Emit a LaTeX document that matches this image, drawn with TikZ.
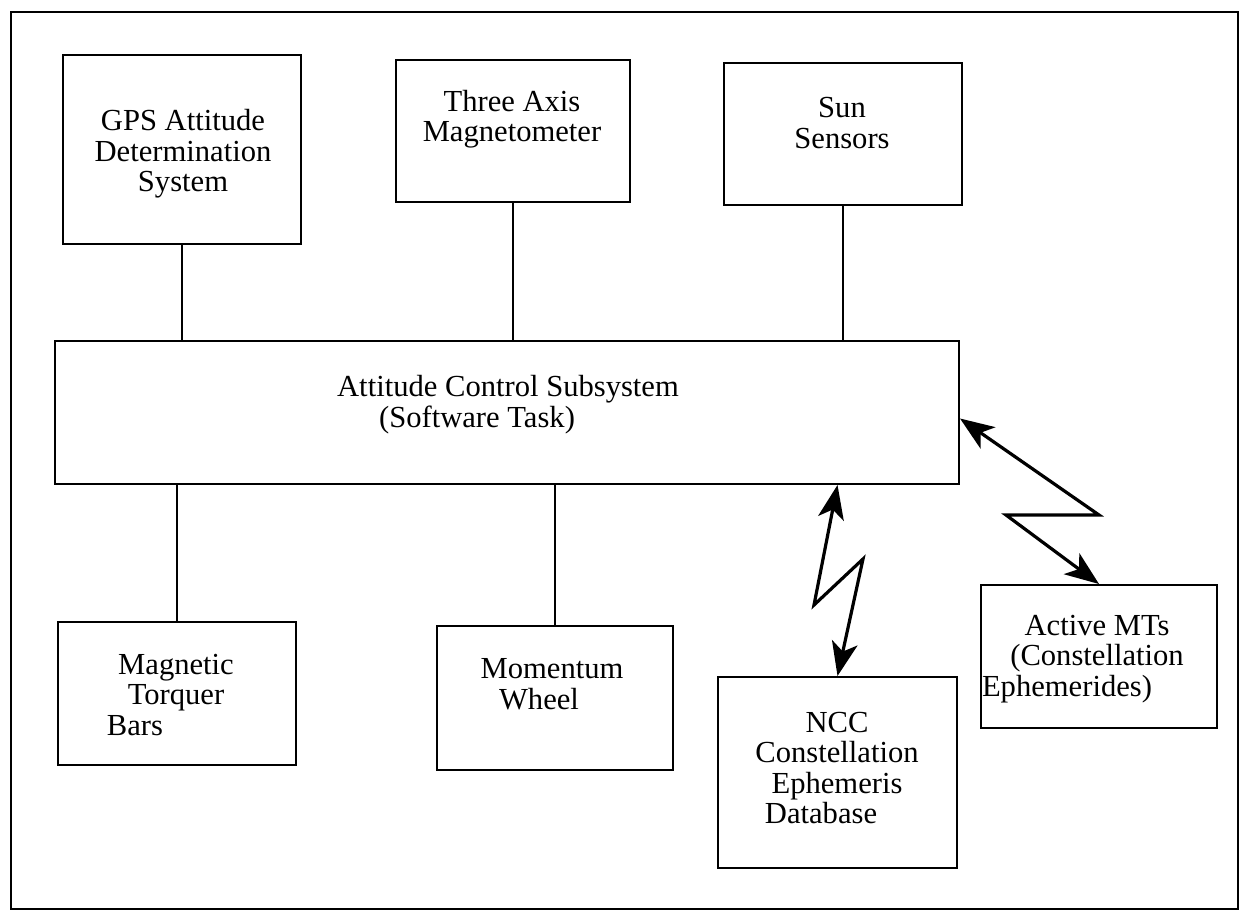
\documentclass[tikz,border=0pt]{standalone}
\usepackage{fontspec}
\setmainfont{Liberation Serif}
\usetikzlibrary{arrows.meta,calc}

\tikzset{
	unitbox/.style={draw, line width=1pt, inner sep=0pt},
	boxtext/.style={align=center, inner sep=0pt, font=\fontsize{15.3}{15.3}\selectfont},
	link/.style={line width=1.4pt},
	bolt/.style={line width=1.6pt, {Stealth[length=17pt,width=13pt,inset=4.5pt]}-{Stealth[length=17pt,width=13pt,inset=4.5pt]}}}
\tikzset{every picture/.style={line width=0.75pt}}

\begin{document}
\begin{tikzpicture}[x=0.5pt,y=0.5pt,yscale=-1,xscale=1]
	\useasboundingbox (0,0) rectangle (1241,914);

	%Shape: Rectangle (outer frame)
	\draw [line width=1pt] (11,12) rectangle (1238,909);

	%Shape: Rectangle
	\node [unitbox, minimum width=119pt, minimum height=94.5pt] (gps) at (182,149.5) {};
	%Shape: Rectangle
	\node [unitbox, minimum width=117pt, minimum height=71pt] (mag3) at (513,131) {};
	%Shape: Rectangle
	\node [unitbox, minimum width=119pt, minimum height=71pt] (sun) at (843,134) {};
	%Shape: Rectangle
	\node [unitbox, minimum width=452pt, minimum height=71.5pt] (acs) at (507,412.5) {};
	%Shape: Rectangle
	\node [unitbox, minimum width=119pt, minimum height=71.5pt] (mtb) at (177,693.5) {};
	%Shape: Rectangle
	\node [unitbox, minimum width=118pt, minimum height=72pt] (wheel) at (555,698) {};
	%Shape: Rectangle
	\node [unitbox, minimum width=119.5pt, minimum height=95.5pt] (ncc) at (837.5,772.5) {};
	%Shape: Rectangle
	\node [unitbox, minimum width=118pt, minimum height=71.5pt] (amt) at (1099,656.5) {};

	%Straight Lines
	\draw [link] (gps.south) -- (gps.south |- acs.north);
	\draw [link] (mag3.south) -- (mag3.south |- acs.north);
	\draw [link] (sun.south) -- (sun.south |- acs.north);
	\draw [link] (mtb.north) -- (mtb.north |- acs.south);
	\draw [link] (wheel.north) -- (wheel.north |- acs.south);

	%Lightning arrows
	\coordinate (b1) at (1099,515);
	\coordinate (b2) at (1006,515);
	\coordinate (b3) at (814,605);
	\coordinate (b4) at (863,559);
	\draw [bolt] ($(acs.east)+(0,6)$) -- (b1) -- (b2) -- (amt.north);
	\draw [bolt] (ncc.north |- acs.south) -- (b3) -- (b4) -- (ncc.north);

	% Text Node
	\node [boxtext] (gpst) at (183,154) {GPS Attitude\\Determination\\System};
	% Text Node
	\node [boxtext] (mag3t) at (512,119) {Three Axis\\Magnetometer};
	% Text Node
	\node [boxtext] (sunt) at (842,123) {Sun\\Sensors};
	% Text Node
	\node [boxtext] (acst) at (508,404.5) {Attitude Control Subsystem\\(Software Task)\hspace*{31pt}};
	% Text Node
	\node [boxtext] (mtbt) at (176,695) {Magnetic\\Torquer\\Bars\hspace*{41pt}};
	% Text Node
	\node [boxtext] (wheelt) at (552,684) {Momentum\\Wheel\hspace*{13pt}};
	% Text Node
	\node [boxtext] (ncct) at (837,768) {NCC\\Constellation\\Ephemeris\\Database\hspace*{16pt}};
	% Text Node
	\node [boxtext] (amtt) at (1097,659) {Active MTs\\(Constellation\\Ephemerides)\hspace*{30pt}};

\end{tikzpicture}
\end{document}
